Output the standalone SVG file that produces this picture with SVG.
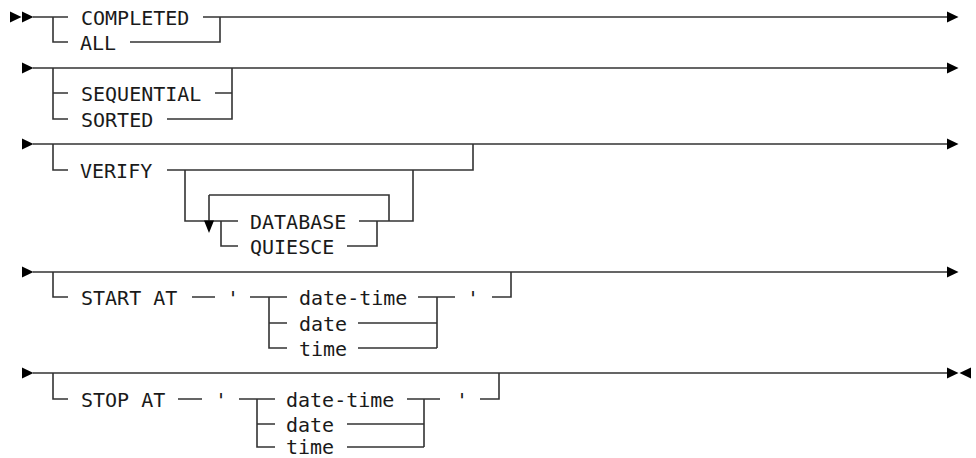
<svg xmlns="http://www.w3.org/2000/svg" width="976" height="458" viewBox="0 0 976 458">
<defs>
<style>
.l{fill:none;stroke:#333;stroke-width:1.6}
text{font-family:"DejaVu Sans Mono","Liberation Mono",monospace;font-size:20px;fill:#1a1a1a}
.q{text-anchor:middle}
.a{fill:#000}
</style>
<path id="ar" d="M0,-5.5 L11.5,0 L0,5.5 Z"/>
<path id="al" d="M0,-5.5 L-11.5,0 L0,5.5 Z"/>
<path id="ad" d="M-5,0 L5,0 L0,12.5 Z"/>
</defs>
<rect width="976" height="458" fill="#fff"/>
<g id="connectors" class="l">
<path d="M33,17 H68 M203,17 H947 M53,17 V42 H68 M130,42 H220 V17"/>
<path d="M33,68 H947 M53,68 V119 H68 M53,93 H68 M215,93 H232 M167,119 H232 V68"/>
<path d="M33,144 H947 M53,144 V170 H68 M167,170 H473 V144 M185,170 V221 H238 M209,195 V221 M209,195 H389 V221 M221,221 V246 H238 M359,221 H413 V170 M347,246 H377 V221"/>
<path d="M33,272 H947 M53,272 V297 H68 M192,297 H215 M250,297 H287 M269,297 V348 H287 M269,323 H287 M418,297 H455 M492,297 H511 V272 M358,323 H437 M358,348 H437 M437,297 V348"/>
<path d="M33,373 H947 M53,373 V399 H68 M178,399 H202 M239,399 H275 M257,399 V447 H275 M257,424 H275 M407,399 H440 M480,399 H499 V373 M347,424 H424 M347,447 H424 M424,399 V447"/>
</g>
<g id="arrows" class="a">
<use href="#ar" x="10" y="17"/><use href="#ar" x="22" y="17"/>
<use href="#ar" x="22" y="68"/><use href="#ar" x="22" y="144"/>
<use href="#ar" x="22" y="272"/><use href="#ar" x="22" y="373"/>
<use href="#ar" x="947" y="17"/><use href="#ar" x="947" y="68"/>
<use href="#ar" x="947" y="144"/><use href="#ar" x="947" y="272"/>
<use href="#ar" x="947" y="373"/><use href="#al" x="971" y="373"/>
<use href="#ad" x="209" y="220.5"/>
</g>
<g id="n-completed"><text x="81" y="25">COMPLETED</text></g>
<g id="n-all"><text x="80" y="50">ALL</text></g>
<g id="n-sequential"><text x="81" y="101">SEQUENTIAL</text></g>
<g id="n-sorted"><text x="81" y="127">SORTED</text></g>
<g id="n-verify"><text x="80" y="178">VERIFY</text></g>
<g id="n-database"><text x="250" y="229">DATABASE</text></g>
<g id="n-quiesce"><text x="250" y="254">QUIESCE</text></g>
<g id="n-startat"><text x="81" y="305">START AT</text></g>
<g id="n-startq1"><text class="q" x="233" y="305">'</text></g>
<g id="n-start-datetime"><text x="299" y="305">date-time</text></g>
<g id="n-start-date"><text x="299" y="331">date</text></g>
<g id="n-start-time"><text x="299" y="356">time</text></g>
<g id="n-startq2"><text class="q" x="473" y="305">'</text></g>
<g id="n-stopat"><text x="81" y="407">STOP AT</text></g>
<g id="n-stopq1"><text class="q" x="221" y="407">'</text></g>
<g id="n-stop-datetime"><text x="286" y="407">date-time</text></g>
<g id="n-stop-date"><text x="286" y="432">date</text></g>
<g id="n-stop-time"><text x="286" y="454">time</text></g>
<g id="n-stopq2"><text class="q" x="462" y="407">'</text></g>
</svg>
